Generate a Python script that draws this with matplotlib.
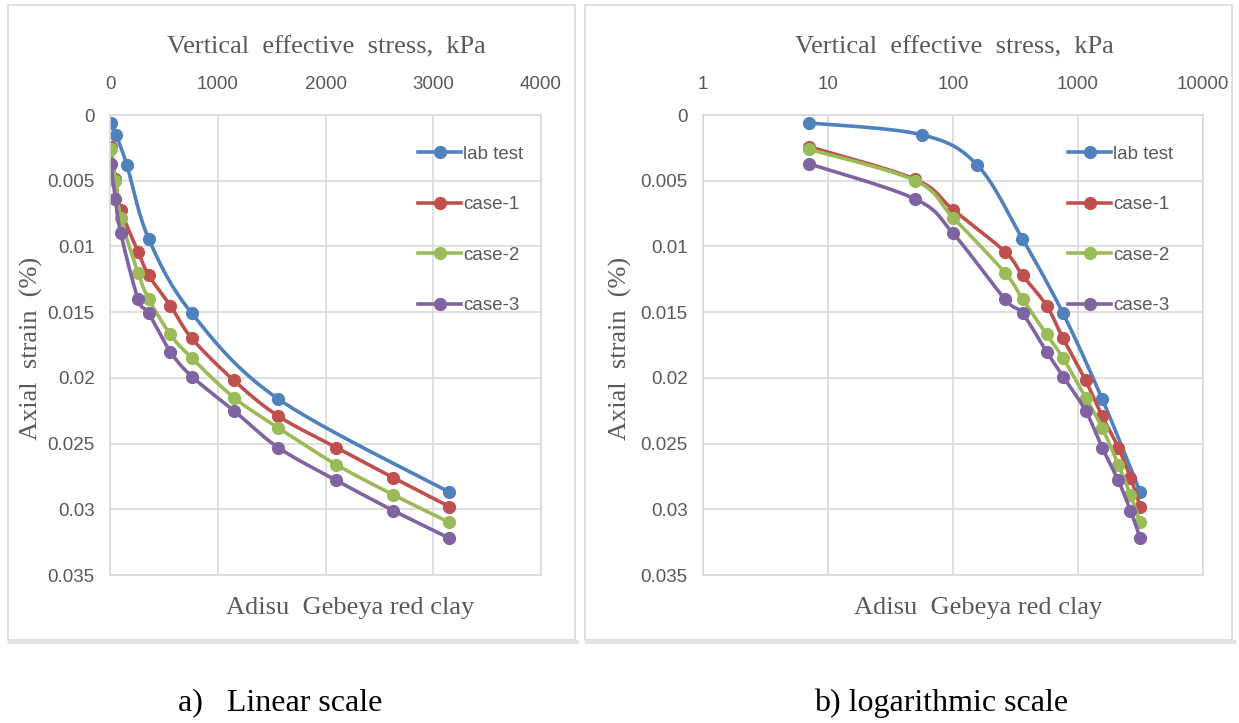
import numpy as np
import matplotlib.pyplot as plt
from matplotlib.patches import Rectangle
from matplotlib.lines import Line2D

# data (stress in kPa, axial strain in %)
lab_stress = [7, 56, 156, 358, 760, 1560, 3150]
lab_strain = [0.0006, 0.0015, 0.0038, 0.0094, 0.0151, 0.0216, 0.0287]

case_stress = [7, 50, 100, 260, 360, 560, 760, 1150, 1560, 2100, 2630, 3150]
case1_strain = [0.0024, 0.0049, 0.0072, 0.0104, 0.0122, 0.0145, 0.0170,
                0.0202, 0.0229, 0.0253, 0.0276, 0.0298]
case2_strain = [0.0026, 0.0050, 0.0078, 0.0120, 0.0140, 0.0167, 0.0185,
                0.0215, 0.0238, 0.0266, 0.0289, 0.0310]
case3_strain = [0.0037, 0.0064, 0.0090, 0.0140, 0.0151, 0.0180, 0.0199,
                0.0225, 0.0253, 0.0278, 0.0301, 0.0322]

series_names = ["lab test", "case-1", "case-2", "case-3"]
series_colors = ["#4F81BD", "#C0504D", "#9BBB59", "#8064A2"]

lin_ticks = [0, 1000, 2000, 3000, 4000]
log_ticks = [1, 10, 100, 1000, 10000]
y_ticks = [0, 0.005, 0.01, 0.015, 0.02, 0.025, 0.03, 0.035]
y_labels = ["0", "0.005", "0.01", "0.015", "0.02", "0.025", "0.03", "0.035"]

W, H = 1239, 723
grid_c = "#d9d9d9"
txt_c = "#595959"
serif = ["Liberation Serif", "DejaVu Serif"]
sans = ["Liberation Sans Narrow", "Liberation Sans", "DejaVu Sans"]
fs_small = 13.5


def smooth(xs, ys, n=30):
    # excel-like smoothed line (uniform catmull-rom)
    p = np.column_stack([xs, ys]).astype(float)
    p = np.vstack([p[0], p, p[-1]])
    t = np.linspace(0, 1, n)[:, None]
    out = []
    for i in range(1, len(p) - 2):
        p0, p1, p2, p3 = p[i - 1], p[i], p[i + 1], p[i + 2]
        seg = 0.5 * (2 * p1 + (-p0 + p2) * t
                     + (2 * p0 - 5 * p1 + 4 * p2 - p3) * t ** 2
                     + (-p0 + 3 * p1 - 3 * p2 + p3) * t ** 3)
        out.append(seg)
    out = np.vstack(out)
    return out[:, 0], out[:, 1]


def fx(px):
    return px / W


def fy(py):
    return 1 - py / H


fig = plt.figure(figsize=(W / 100, H / 100), dpi=100)

# panel frames
for x0, x1 in [(8, 575), (585, 1232)]:
    fig.add_artist(Line2D([fx(x0 + 2), fx(x1 + 2)], [fy(642), fy(642)],
                          color="#e3e3e3", lw=3, transform=fig.transFigure))
    fig.add_artist(Rectangle((fx(x0), fy(640)), fx(x1 - x0), 635 / H,
                             transform=fig.transFigure, fill=False,
                             ec=grid_c, lw=1.2))

ax1 = fig.add_axes([fx(110), fy(575), fx(541 - 110), (575 - 115) / H])
ax2 = fig.add_axes([fx(703), fy(575), fx(1203 - 703), (575 - 115) / H])
ax2.set_xscale("log")

all_series = [(lab_stress, lab_strain), (case_stress, case1_strain),
              (case_stress, case2_strain), (case_stress, case3_strain)]

for ax, is_log in [(ax1, False), (ax2, True)]:
    for (xs, ys), c in zip(all_series, series_colors):
        xs = np.array(xs, float)
        if is_log:
            sx, sy = smooth(np.log10(xs), ys)
            sx = 10 ** sx
        else:
            sx, sy = smooth(xs, ys)
        ax.plot(sx, sy, color=c, lw=2.6, solid_capstyle="round")
        ax.plot(xs, ys, "o", color=c, ms=8.5, mec=c)

    if is_log:
        ax.set_xlim(1, 10000)
        ax.set_xticks(log_ticks)
        ax.set_xticklabels([str(v) for v in log_ticks])
        ax.xaxis.set_minor_locator(plt.NullLocator())
    else:
        ax.set_xlim(0, 4000)
        ax.set_xticks(lin_ticks)
        ax.set_xticklabels([str(v) for v in lin_ticks])
    ax.set_ylim(0.035, 0)
    ax.set_yticks(y_ticks)
    ax.set_yticklabels(y_labels)
    ax.xaxis.tick_top()
    ax.tick_params(length=0, labelsize=fs_small, labelcolor=txt_c)
    ax.tick_params(axis="x", pad=16)
    ax.tick_params(axis="y", pad=11)
    for lab in ax.get_xticklabels() + ax.get_yticklabels():
        lab.set_family(sans)
    ax.grid(True, color=grid_c, lw=1.2)
    ax.set_axisbelow(True)
    for s in ax.spines.values():
        s.set_color(grid_c)
        s.set_linewidth(1.2)

    handles = [Line2D([], [], color=c, lw=2.6, marker="o", ms=8.5)
               for c in series_colors]
    leg = ax.legend(handles, series_names, loc="upper left",
                    bbox_to_anchor=(0.715 if not is_log else 0.73, 0.933),
                    frameon=False, handlelength=2.3, handletextpad=0.1,
                    labelspacing=1.78, borderpad=0, borderaxespad=0,
                    prop={"family": sans, "size": fs_small})
    for t in leg.get_texts():
        t.set_color(txt_c)

# titles and labels
for cx in [326, 954]:
    fig.text(fx(cx), fy(47), "Vertical  effective  stress,  kPa", ha="center",
             va="center", fontsize=19, family=serif, color=txt_c)
    fig.text(fx(cx + 24), fy(608), "Adisu  Gebeya red clay", ha="center",
             va="center", fontsize=19, family=serif, color=txt_c)
for cx in [31, 620]:
    fig.text(fx(cx), fy(348), "Axial  strain  (%)", ha="center", va="center",
             rotation=90, fontsize=19, family=serif, color=txt_c)

fig.text(fx(178), fy(703), "a)   Linear scale", ha="left", va="center",
         fontsize=23, family=serif, color="black")
fig.text(fx(814), fy(703), "b) logarithmic scale", ha="left", va="center",
         fontsize=23, family=serif, color="black")

fig.savefig("out.png", dpi=100, facecolor="white")
